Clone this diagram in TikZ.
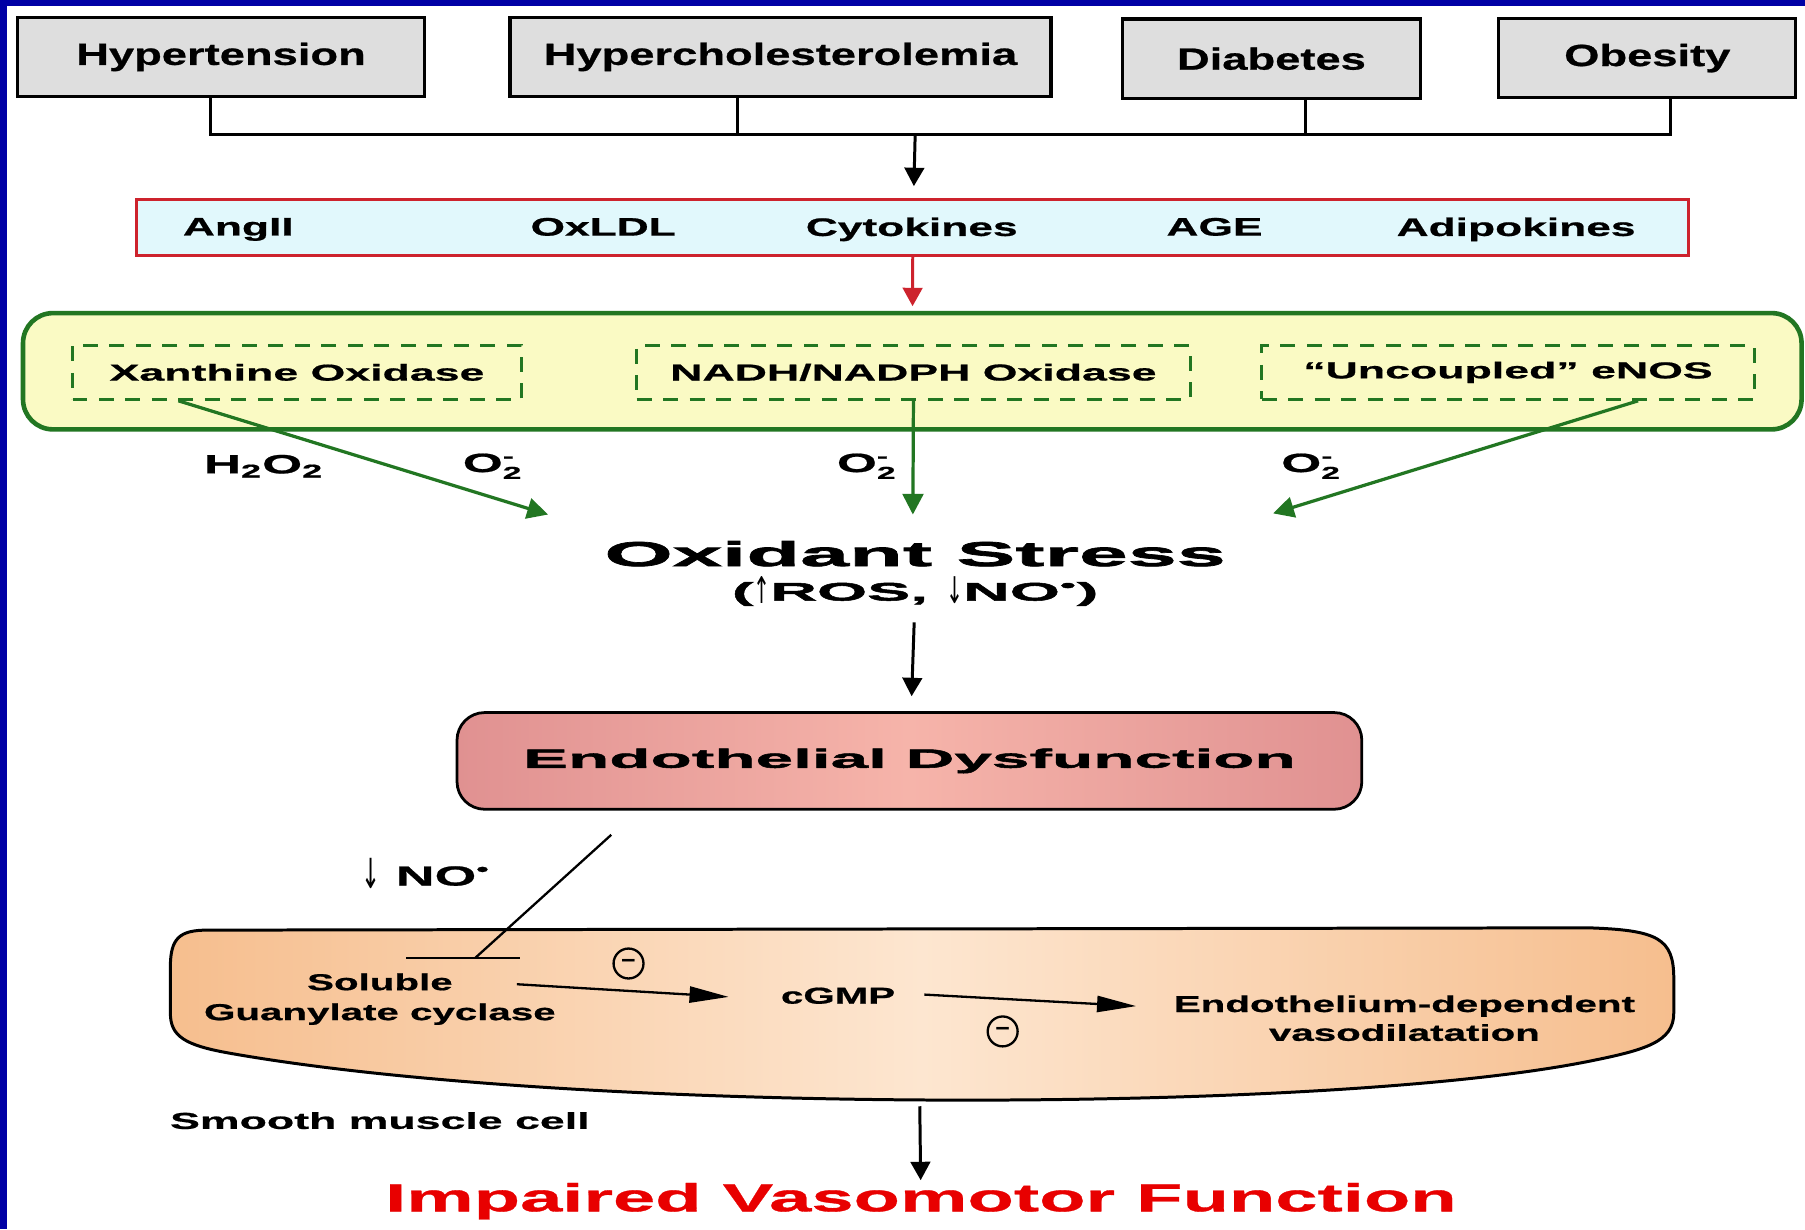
\documentclass[tikz,border=0pt]{standalone}
\usepackage{fontspec}
\setmainfont{Liberation Sans}
\newfontfamily\facfont[FakeStretch=1.48,FakeBold=0.8]{Liberation Sans}
\newfontfamily\medfont[FakeStretch=1.75,FakeBold=0.8]{Liberation Sans}
\newfontfamily\enzfont[FakeStretch=1.94,FakeBold=0.8]{Liberation Sans}
\newfontfamily\bigfont[FakeStretch=2.55,FakeBold=2]{Liberation Sans}
\newfontfamily\arrfont[FakeStretch=0.55]{DejaVu Sans}
\usepackage{tikz}
\usetikzlibrary{arrows.meta,positioning}
\definecolor{framebl}{RGB}{0,0,165}
\definecolor{boxgray}{RGB}{222,222,222}
\definecolor{medred}{RGB}{205,35,45}
\definecolor{medfill}{RGB}{225,248,252}
\definecolor{srcgreen}{RGB}{34,118,34}
\definecolor{srcfill}{RGB}{250,250,196}
\definecolor{endoA}{RGB}{224,145,145}
\definecolor{endoB}{RGB}{246,180,170}
\definecolor{cellA}{RGB}{246,190,142}
\definecolor{cellB}{RGB}{253,230,208}
\definecolor{impred}{RGB}{232,0,0}
\newcommand{\supox}{O$_{\mbox{\fontsize{7.5}{7.5}\selectfont 2}}^{\mbox{\fontsize{7.5}{7.5}\selectfont -}}$}
\newcommand{\upar}{\smash{\raisebox{-1.5pt}{\arrfont\mdseries\fontsize{16}{16}\selectfont ↑}}}
\newcommand{\dnar}{\smash{\raisebox{-1.5pt}{\arrfont\mdseries\fontsize{16}{16}\selectfont ↓}}}
\tikzstyle{factor} = [rectangle, draw, fill=boxgray, line width=1.4pt, minimum height=34.5pt, inner sep=0pt, font=\facfont\bfseries\fontsize{13.3}{15}\selectfont]
\tikzstyle{mediators} = [rectangle, draw=medred, fill=medfill, line width=1.3pt, minimum width=674pt, minimum height=24.5pt]
\tikzstyle{mediator} = [font=\medfont\bfseries\fontsize{11}{13}\selectfont, text depth=0pt]
\tikzstyle{sources} = [rectangle, rounded corners=13pt, draw=srcgreen, fill=srcfill, line width=2pt, minimum width=772.5pt, minimum height=50.5pt]
\tikzstyle{enzyme} = [rectangle, draw=srcgreen, dash pattern=on 6.5pt off 5pt, line width=1.2pt, minimum height=23.5pt, inner sep=0pt, font=\enzfont\bfseries\fontsize{10}{12}\selectfont]
\tikzstyle{species} = [font=\enzfont\bfseries\fontsize{11.5}{13}\selectfont]
\tikzstyle{stress} = [font=\bigfont\bfseries\fontsize{15}{17}\selectfont, inner sep=1pt]
\tikzstyle{ros} = [font=\bigfont\bfseries\fontsize{11}{13}\selectfont, inner sep=1pt]
\tikzstyle{endo} = [rectangle, rounded corners=12pt, draw, line width=1.2pt, left color=endoA, right color=endoA, middle color=endoB, minimum width=393pt, minimum height=42pt, font=\bigfont\bfseries\fontsize{11.5}{13}\selectfont]
\tikzstyle{cellnode} = [font=\medfont\bfseries\fontsize{10}{13}\selectfont, align=center]
\tikzstyle{minus} = [circle, draw, line width=1pt, minimum size=13pt, inner sep=0pt, font=\bfseries\fontsize{11}{11}\selectfont]
\tikzstyle{line} = [draw, line width=1.3pt, -{Triangle[length=8pt,width=8.5pt]}]
\tikzstyle{bus} = [draw, line width=1.3pt]
\tikzstyle{redline} = [line, color=medred]
\tikzstyle{greenline} = [draw, line width=1.4pt, color=srcgreen, -{Triangle[length=9pt,width=9pt]}]
\tikzstyle{catline} = [draw, line width=1pt, -{Triangle[length=17pt,width=7pt]}]
\tikzstyle{inhib} = [draw, line width=1pt]

\begin{document}
\begin{tikzpicture}[x=0.5pt, y=-0.5pt]
	\path[use as bounding box, fill=white] (0,0) rectangle (1568,1068);
	\fill[framebl] (0,0) rectangle (1568,5);
	\fill[framebl] (0,0) rectangle (6,1068);
	% Place nodes
	\node [factor, minimum width=177pt] (hyper) at (192,49.5) {Hypertension};
	\node [factor, minimum width=235pt] (chol) at (678,49.5) {Hypercholesterolemia};
	\node [factor, minimum width=129.5pt] (diab) at (1104.5,51) {Diabetes};
	\node [factor, minimum width=129pt] (obes) at (1431,50.5) {Obesity};
	\coordinate (busL) at (183,117);
	\coordinate (bus) at (795,117);
	\coordinate (busR) at (1451,117);

	\node [mediators] (med) at (793,197.5) {};
	\node [mediator] (ang) at (207,197) {AngII};
	\node [mediator] (oxldl) at (524,197) {OxLDL};
	\node [mediator] (cyto) at (792,197) {Cytokines};
	\node [mediator] (age) at (1055,197) {AGE};
	\node [mediator] (adipo) at (1317,197) {Adipokines};

	\node [sources] (src) at (792.5,322.5) {};
	\node [enzyme, minimum width=195pt] (xo) at (258,323.5) {Xanthine Oxidase};
	\node [enzyme, minimum width=240.5pt] (nadph) at (793.5,323.5) {NADH/NADPH Oxidase};
	\node [enzyme, minimum width=214pt] (enos) at (1310,323.5) {“Uncoupled” eNOS};

	\node [species] (h2o2) at (229,405) {H\textsubscript{2}O\textsubscript{2}};
	\node [species] (supA) at (428,405) {\supox};
	\node [species] (supB) at (753,405) {\supox};
	\node [species] (supC) at (1139,405) {\supox};
	\coordinate (osL) at (476,447);
	\coordinate (osC) at (793,447);
	\coordinate (osR) at (1106,446);

	\node [stress] (ox) at (795,481) {Oxidant Stress};
	\node [ros] (ros) at (795,516) {(\upar ROS, \dnar NO\textsuperscript{•})};
	\node [endo] (endo) at (790,661) {Endothelial Dysfunction};

	\node [species, font=\enzfont\bfseries\fontsize{12}{14}\selectfont] (nolbl) at (370,761) {\smash{\raisebox{-1.5pt}{\arrfont\mdseries\fontsize{18}{18}\selectfont ↓}}\ NO\textsuperscript{•}};
	\coordinate (sgcTop) at (413,832);

	% Smooth muscle cell
	\path[draw, line width=1.3pt, left color=cellA, right color=cellA, middle color=cellB]
		(148,840) .. controls (148,815) and (156,808) .. (180,808) -- (1380,806)
		.. controls (1440,808) and (1454,815) .. (1454,850) -- (1454,880)
		.. controls (1454,905) and (1430,912) .. (1380,922)
		.. controls (1150,968) and (500,968) .. (200,915)
		.. controls (160,908) and (148,900) .. (148,880) -- cycle;
	\node [cellnode] (sgc) at (330,868) {Soluble\\Guanylate cyclase};
	\node [cellnode] (cgmp) at (728,865) {cGMP};
	\node [cellnode, font=\medfont\bfseries\fontsize{10}{12.5}\selectfont] (vaso) at (1220,884.5) {Endothelium-dependent\\vasodilatation};
	\node [minus] (m1) at (546,837) {–};
	\node [minus] (m2) at (871,896) {–};
	\node [species, font=\enzfont\bfseries\fontsize{10}{12}\selectfont] (smc) at (330,973.5) {Smooth muscle cell};
	\coordinate (cellB) at (799,961);
	\node [species, inner sep=1pt, text=impred, font=\enzfont\bfseries\fontsize{17}{19}\selectfont] (imp) at (800,1043.5) {Impaired Vasomotor Function};

	% Draw edges
	\path [bus] ([xshift=-4.5pt]hyper.south) -- (busL) -- (busR) -- ([xshift=10pt]obes.south);
	\path [bus] ([xshift=-18.5pt]chol.south) |- (bus);
	\path [bus] ([xshift=15pt]diab.south) |- (bus);
	\path [line, shorten >=5pt] (bus) -- (med);
	\path [redline, shorten >=2pt] (med) -- (src);
	\path [greenline] ([xshift=-51.5pt]xo.south) -- (osL);
	\path [greenline] (nadph.south) -- (osC);
	\path [greenline] ([xshift=56.5pt]enos.south) -- (osR);
	\path [line, shorten <=6pt, shorten >=6.5pt] (ros) -- (endo);
	\path [inhib] ([xshift=-129.5pt,yshift=-10.5pt]endo.south) -- (sgcTop);
	\path [inhib] ([xshift=-30pt]sgcTop) -- ([xshift=19.5pt]sgcTop);
	\path [catline] ([shift={(59.5pt,6.5pt)}]sgc.center) -- ([shift={(-47.5pt,-0.5pt)}]cgmp.center);
	\path [catline] ([shift={(37.5pt,0.5pt)}]cgmp.center) -- ([shift={(-116.5pt,5.25pt)}]vaso.center);
	\path [line] (cellB) -- (imp);
\end{tikzpicture}
\end{document}
